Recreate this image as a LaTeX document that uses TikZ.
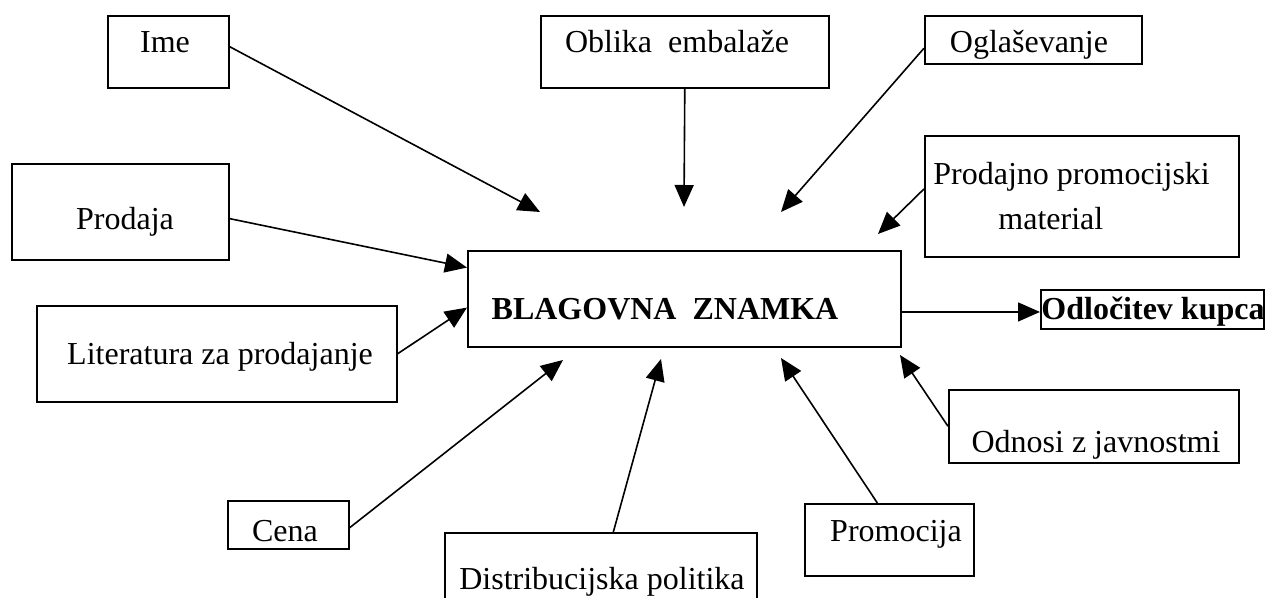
\documentclass[tikz,border=0pt]{standalone}
\usepackage{fontspec}
\setmainfont{Liberation Serif}
\usetikzlibrary{arrows.meta,calc}
\begin{document}
\begin{tikzpicture}[x=0.5pt,y=-0.5pt,
  box/.style={draw,line width=0.8pt,inner sep=0pt,anchor=north west},
  lbl/.style={anchor=base,inner sep=0pt,font=\fontsize{16}{19}\selectfont},
  lblb/.style={lbl,font=\fontsize{16}{19}\selectfont\bfseries},
  con/.style={line width=0.8pt,-{Triangle[length=11pt,width=9.5pt]}}]
\useasboundingbox (0,0) rectangle (1266,598);
% boxes
\node[box,minimum width=60.5pt,minimum height=36pt] (ime) at (107,15) {};
\node[box,minimum width=144pt,minimum height=36pt] (obl) at (540,15) {};
\node[box,minimum width=108.5pt,minimum height=24pt] (ogl) at (924,15) {};
\node[box,minimum width=108.5pt,minimum height=48pt] (pro) at (11,163) {};
\node[box,minimum width=157pt,minimum height=60.5pt] (ppm) at (924,135) {};
\node[box,minimum width=216.5pt,minimum height=48pt] (bla) at (467,250) {};
\node[box,minimum width=111.5pt,minimum height=19.5pt] (odl) at (1040,289) {};
\node[box,minimum width=180pt,minimum height=48pt] (lit) at (36,305) {};
\node[box,minimum width=145pt,minimum height=36.5pt] (odn) at (948,389) {};
\node[box,minimum width=60.5pt,minimum height=24pt] (cen) at (227,500) {};
\node[box,minimum width=84.5pt,minimum height=36pt] (prm) at (804,503) {};
\node[box,minimum width=156pt,minimum height=50pt] (dis) at (444,532) {};
% texts
\node[lbl] (t-ime) at (165,53) {Ime};
\node[lbl] (t-obl) at (677,53) {Oblika\ \ embalaže};
\node[lbl] (t-ogl) at (1029,53) {Oglaševanje};
\node[lbl] (t-pro) at (125,230) {Prodaja};
\node[lbl,anchor=base west] (t-ppm1) at (933,185) {Prodajno promocijski};
\node[lbl,anchor=base west] (t-ppm2) at (998,230) {material};
\node[lblb] (t-bla) at (665,320) {BLAGOVNA\ \ ZNAMKA};
\node[lblb] (t-odl) at (1153,320) {Odločitev kupca};
\node[lbl] (t-lit) at (220,365) {Literatura za prodajanje};
\node[lbl] (t-odn) at (1096,453) {Odnosi z javnostmi};
\node[lbl] (t-cen) at (285,542) {Cena};
\node[lbl] (t-prm) at (896,542) {Promocija};
\node[lbl] (t-dis) at (602,590) {Distribucijska politika};
% arrow tips (free ends)
\coordinate (e-ime) at (540,212);
\coordinate (e-obl) at (684,207);
\coordinate (e-ogl) at (781,212);
\coordinate (e-ppm) at (878,234);
\coordinate (e-cen) at (563,360);
\coordinate (e-dis) at (661,359);
\coordinate (e-prm) at (781,358);
\coordinate (e-odn) at (900,355);
% connectors
\draw[con] ($(ime.north east)!0.43!(ime.south east)$) -- (e-ime);
\draw[con] (obl.south) -- (e-obl);
\draw[con] ($(ogl.north west)!0.67!(ogl.south west)$) -- (e-ogl);
\draw[con] ($(ppm.north west)!0.44!(ppm.south west)$) -- (e-ppm);
\draw[con] ($(pro.north east)!0.57!(pro.south east)$) -- ($(bla.north west)!0.18!(bla.south west)$);
\draw[con] (lit.east) -- ($(bla.north west)!0.59!(bla.south west)$);
\coordinate (b-out) at ($(bla.north east)!0.635!(bla.south east)$);
\draw[con] (b-out) -- (b-out -| odl.west);
\draw[con] ($(cen.north east)!0.56!(cen.south east)$) -- (e-cen);
\draw[con] ($(dis.north west)!0.54!(dis.north east)$) -- (e-dis);
\draw[con] ($(prm.north west)!0.43!(prm.north east)$) -- (e-prm);
\draw[con] (odn.west) -- (e-odn);
\end{tikzpicture}
\end{document}
